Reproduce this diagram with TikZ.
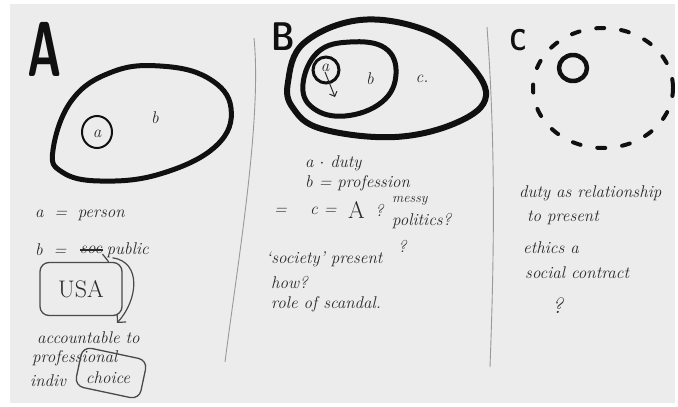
\documentclass[tikz,border=0pt]{standalone}
\usepackage{tikz}
\usetikzlibrary{arrows.meta, calc, positioning}
\definecolor{paper}{HTML}{ECECEC}
\definecolor{ink}{HTML}{101010}
\definecolor{pencil}{HTML}{2A2A2A}
\tikzset{
  marker/.style   = {draw=ink, line width=5pt, line join=round},
  ring/.style     = {draw=ink, line width=2pt},
  divider/.style  = {draw=black!40, line width=0.9pt},
  hand/.style     = {font=\fontsize{17}{19}\selectfont\itshape, text=pencil,
                     inner sep=0pt, anchor=west},
  bigletter/.style = {text=ink, inner sep=0pt},
  callout/.style  = {draw=pencil!85, line width=1.3pt, rounded corners=9pt},
  dots/.style     = {draw=ink, line width=4pt, line cap=round,
                     dash pattern=on 8pt off 17pt},
}

\begin{document}
\begin{tikzpicture}[x=1pt, y=-1pt]
  \useasboundingbox (0,0) rectangle (678,407);
  \fill[white] (0,0) rectangle (678,407);
  \fill[paper] (10,4) rectangle (675,403);
  % dividers between the three sketches
  \draw[divider] (254,38) .. controls (262,120) and (238,260) .. (225,362);
  \draw[divider] (487,27) .. controls (496,150) and (494,260) .. (490,367);

  % --- sketch A
  \node[bigletter, xscale=0.6, font=\fontsize{78}{78}\selectfont\sffamily\bfseries] (letA) at (45,49) {A};
  \draw[marker] plot[smooth cycle, tension=0.7] coordinates {(53,150) (72,100) (112,72) (160,66)
    (208,78) (231,108) (216,146) (160,174) (100,181) (62,172)};
  \draw[ring] (97,132) ellipse (15 and 16);
  \node[hand, anchor=center] (aA) at (97,134) {a};
  \node[hand, anchor=center] (bA) at (155,118) {b};
  \node[hand] (defa) at (35,215) {a \;=\; person};
  \node[hand] (defb) at (35,250) {b \;=};
  \node[hand] (soc) at (80,250) {soc};
  \draw[pencil, line width=1.2pt] (soc.west) -- (soc.east);
  \node[hand, right=4pt of soc] (pub) {public};
  \node[callout, minimum width=82pt, minimum height=53pt,
        font=\fontsize{24}{26}\selectfont, text=pencil] (usa) at (81,289) {USA};
  \draw[pencil!85, line width=1.2pt] ($(usa.north east)+(-14,0)$) -- (soc.south east);
  \node[hand] (acc) at (37,338) {accountable to};
  \node[hand] (prof) at (32,358) {professional};
  \node[hand] (indiv) at (30,381) {indiv};
  \node[callout, rotate=-12, minimum width=66pt, minimum height=40pt] (choicebox) at (111,373) {};
  \node[hand, anchor=center] (choice) at (108,378) {choice};
  \coordinate (accTip) at (117,323);
  \draw[pencil!85, line width=1.2pt, -{Straight Barb[length=6pt]}]
    ($(pub.south west)+(6,0)$) .. controls (142,262) and (138,300) .. (accTip);

  % --- sketch B
  \node[bigletter, xscale=0.8, font=\fontsize{40}{40}\selectfont\sffamily\bfseries] (letB) at (283,37) {B};
  \draw[marker, line width=6pt] plot[smooth cycle, tension=0.65] coordinates {(288,82) (304,43)
    (360,20) (425,30) (466,60) (486,96) (458,122) (395,137) (322,129) (293,108)};
  \draw[marker] plot[smooth cycle, tension=0.7] coordinates {(303,84) (318,52) (350,42)
    (385,48) (396,74) (382,102) (345,116) (313,108)};
  \draw[ring, line width=3pt] (326,70) ellipse (13 and 13);
  \node[hand, anchor=center] (aB) at (325,68) {a};
  \coordinate (aBfoot) at (335,97);
  \draw[pencil, line width=1pt, -{Straight Barb[length=4pt]}] (aB.south) -- (aBfoot);
  \node[hand, anchor=center] (bB) at (370,79) {b};
  \node[hand, anchor=center] (cB) at (422,79) {c.};
  \node[hand] (duty) at (305,163) {a $\cdot$ duty};
  \node[hand] (prfs) at (305,183) {b = profession};
  \node[hand] (eq) at (274,211) {=};
  \node[hand] (ceq) at (310,211) {c = };
  \node[hand, font=\fontsize{24}{26}\selectfont] (bigA) at (348,210) {A};
  \node[hand] (qA) at (375,210) {?};
  \node[hand, font=\fontsize{14}{16}\selectfont\itshape] (messy) at (392,201) {messy};
  \node[hand] (polit) at (392,221) {politics?};
  \node[hand] (qB) at (398,246) {?};
  \node[hand] (soci) at (266,259) {`society' present};
  \node[hand] (how) at (271,283) {how?};
  \node[hand] (scan) at (271,304) {role of scandal.};

  % --- sketch C
  \node[bigletter, xscale=0.8, font=\fontsize{30}{30}\selectfont\sffamily\bfseries] (letC) at (518,40) {C};
  \draw[dots] (603,88) ellipse (70 and 60);
  \draw[marker, line width=4.5pt] (573,68) ellipse (14 and 13);
  \node[hand] (rel) at (519,193) {duty as relationship};
  \node[hand] (pres) at (527,218) {to present};
  \node[hand] (eth) at (523,248) {ethics a};
  \node[hand] (soc2) at (525,273) {social contract};
  \node[hand, font=\fontsize{22}{24}\selectfont\itshape] (qC) at (552,306) {?};
\end{tikzpicture}
\end{document}
